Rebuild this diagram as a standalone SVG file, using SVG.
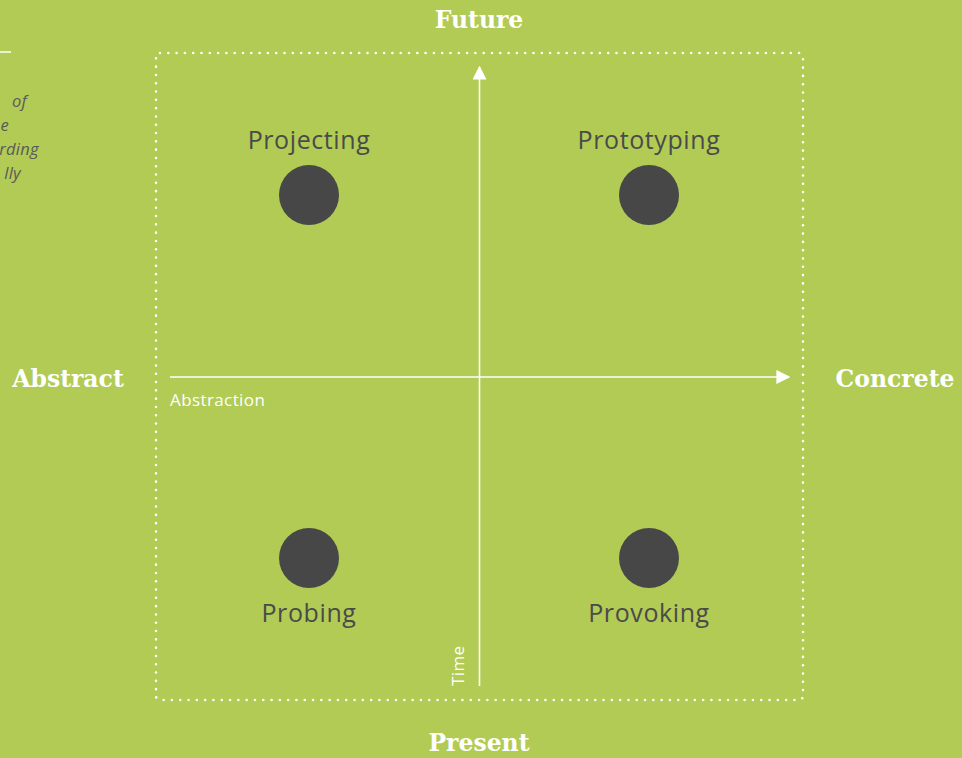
<svg xmlns="http://www.w3.org/2000/svg" width="962" height="758" viewBox="0 0 962 758">
<defs>
<style>
.big{font-family:"DejaVu Serif","Liberation Serif",serif;font-weight:bold;font-size:23.5px;fill:#ffffff}
.lbl{font-family:"Open Sans","Noto Sans",sans-serif;font-size:25px;letter-spacing:0.6px;fill:#4a4a4a}
.small{font-family:"Open Sans","Noto Sans",sans-serif;font-size:17px;letter-spacing:0.4px;fill:#ffffff}
.note{font-family:"Open Sans","Noto Sans",sans-serif;font-style:italic;font-size:16.5px;letter-spacing:0.3px;fill:#5a5a5a}
.axis{stroke:#ffffff;stroke-width:1.6;fill:none}
.dot{fill:#474747}
</style>
<marker id="ah" viewBox="0 0 10 10" refX="9" refY="5" markerWidth="14" markerHeight="14" markerUnits="userSpaceOnUse" orient="auto">
<path d="M0,0 L10,5 L0,10 z" fill="#ffffff"/>
</marker>
</defs>
<rect width="962" height="758" fill="#b1cb55"/>
<g id="fragment">
<line x1="0" y1="52" x2="11" y2="52" stroke="#ffffff" stroke-width="1.5"/>
<text class="note" x="27" y="107" text-anchor="end">of</text>
<text class="note" x="9" y="131" text-anchor="end">e</text>
<text class="note" x="39" y="155" text-anchor="end">rding</text>
<text class="note" x="21" y="179" text-anchor="end">lly</text>
</g>
<g id="frame">
<rect x="156" y="53" width="647" height="647" rx="4" fill="none" stroke="#ffffff" stroke-width="2.6" stroke-linecap="round" stroke-dasharray="0 8.3"/>
</g>
<g id="connectors">
<line class="axis" x1="479.5" y1="686" x2="479.5" y2="67" marker-end="url(#ah)"/>
<line class="axis" x1="170" y1="377" x2="789" y2="377" marker-end="url(#ah)"/>
</g>
<g id="axis-labels">
<text class="big" x="479" y="28" text-anchor="middle">Future</text>
<text class="big" x="479" y="751" text-anchor="middle">Present</text>
<text class="big" x="68" y="387" text-anchor="middle">Abstract</text>
<text class="big" x="895" y="387" text-anchor="middle">Concrete</text>
<text class="small" x="170" y="406">Abstraction</text>
<text class="small" transform="translate(464,686) rotate(-90)">Time</text>
</g>
<g id="projecting">
<circle class="dot" cx="309" cy="195" r="30"/>
<text class="lbl" x="309" y="149" text-anchor="middle">Projecting</text>
</g>
<g id="prototyping">
<circle class="dot" cx="649" cy="195" r="30"/>
<text class="lbl" x="649" y="149" text-anchor="middle">Prototyping</text>
</g>
<g id="probing">
<circle class="dot" cx="309" cy="558" r="30"/>
<text class="lbl" x="309" y="622" text-anchor="middle">Probing</text>
</g>
<g id="provoking">
<circle class="dot" cx="649" cy="558" r="30"/>
<text class="lbl" x="649" y="622" text-anchor="middle">Provoking</text>
</g>
</svg>
